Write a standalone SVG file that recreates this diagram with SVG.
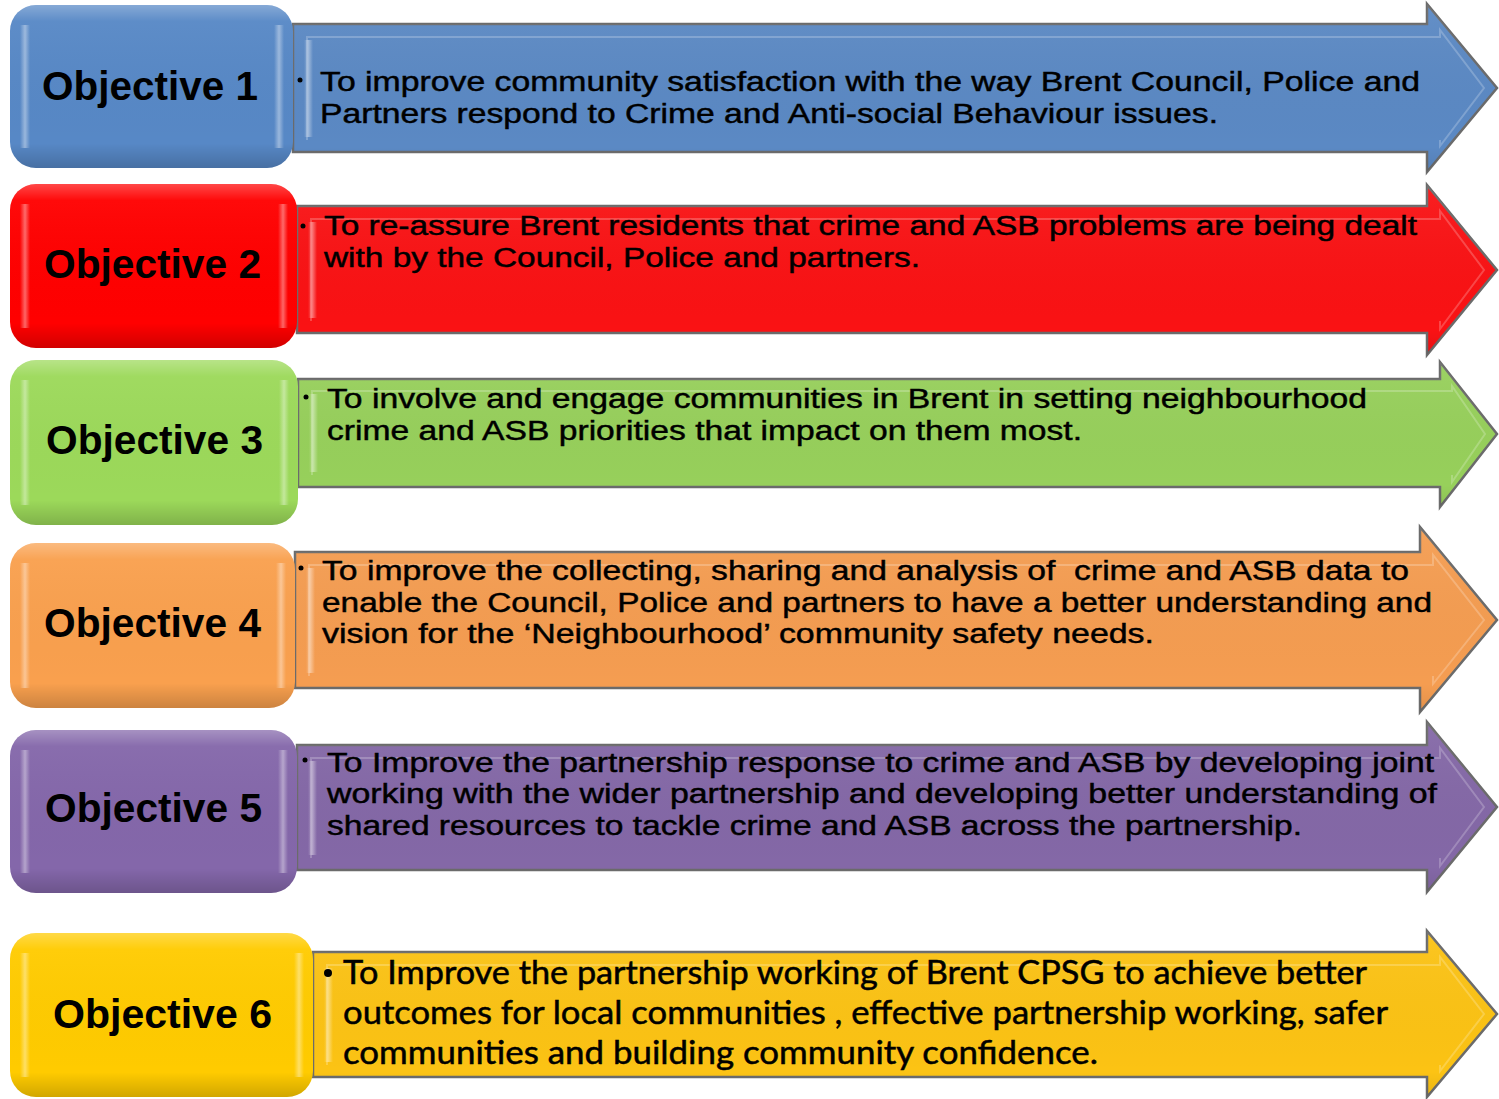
<svg xmlns="http://www.w3.org/2000/svg" width="1499" height="1099" viewBox="0 0 1499 1099">
<defs>
<linearGradient id="gloss" x1="0" y1="0" x2="0" y2="1">
<stop offset="0" stop-color="#ffffff" stop-opacity="0.28"/>
<stop offset="0.1" stop-color="#ffffff" stop-opacity="0.04"/>
<stop offset="0.85" stop-color="#000000" stop-opacity="0"/>
<stop offset="1" stop-color="#000000" stop-opacity="0.18"/>
</linearGradient>
<linearGradient id="agloss" x1="0" y1="0" x2="0" y2="1">
<stop offset="0" stop-color="#ffffff" stop-opacity="0.06"/>
<stop offset="0.85" stop-color="#000000" stop-opacity="0"/>
<stop offset="1" stop-color="#000000" stop-opacity="0.08"/>
</linearGradient>
<linearGradient id="side" x1="0" y1="0" x2="1" y2="0">
<stop offset="0" stop-color="#ffffff" stop-opacity="0"/>
<stop offset="0.5" stop-color="#ffffff" stop-opacity="0.4"/>
<stop offset="1" stop-color="#ffffff" stop-opacity="0"/>
</linearGradient>
</defs>
<style>
.arrow{stroke:#6b6b6b;stroke-width:2.5;stroke-linejoin:miter}
.ov{fill:url(#agloss);stroke:none}
.bev{fill:none;stroke:#ffffff;stroke-opacity:0.22;stroke-width:2}
.box{stroke:none}
.boxov{fill:url(#gloss)}
.hl{fill:url(#side)}
.lbl{font-family:"Liberation Sans",Arial,sans-serif;font-weight:bold;font-size:40px;fill:#000}
.t{font-family:"Liberation Sans",Arial,sans-serif;font-size:27px;fill:#000;stroke:#000;stroke-width:0.45}
.t6{font-family:Lato,"Open Sans",sans-serif;font-size:32px;fill:#000;stroke:#000;stroke-width:0.5}
.bul{fill:#000}
.c1{fill:#5788c6}.a1{fill:#5b89c4}
.c2{fill:#ff0000}.a2{fill:#fa1214}
.c3{fill:#9cd95a}.a3{fill:#97d05b}
.c4{fill:#f9a04e}.a4{fill:#f59d51}
.c5{fill:#8467aa}.a5{fill:#8468a7}
.c6{fill:#ffcb00}.a6{fill:#fcc314}
</style>

<g id="objective1">
<g id="arrow1">
<polygon class="arrow a1" points="293,24 1427,24 1427,4 1497,88 1427,172 1427,152 293,152"/>
<polygon class="ov" points="293,24 1427,24 1427,4 1497,88 1427,172 1427,152 293,152"/>
<polyline class="bev" points="307,140 307,37 1440,37 1440,30 1484,88 1440,146 1440,140"/>
<rect class="hl" x="304" y="40" width="9" height="97"/>
<circle class="bul" cx="300" cy="80" r="2.5"/>
<text class="t" x="320" y="91" textLength="1100" lengthAdjust="spacingAndGlyphs">To improve community satisfaction with the way Brent Council, Police and</text>
<text class="t" x="320" y="123" textLength="898" lengthAdjust="spacingAndGlyphs">Partners respond to Crime and Anti-social Behaviour issues.</text>
</g>
<g id="box1">
<rect class="box c1" x="10" y="5" width="283" height="163" rx="26"/>
<rect class="boxov" x="10" y="5" width="283" height="163" rx="26"/>
<rect class="hl" x="20" y="25" width="10" height="123"/>
<rect class="hl" x="274" y="25" width="10" height="123"/>
<text class="lbl" x="42" y="100" textLength="216" lengthAdjust="spacingAndGlyphs">Objective 1</text>
</g>
</g>

<g id="objective2">
<g id="arrow2">
<polygon class="arrow a2" points="297,206 1427,206 1427,185 1497,270 1427,355 1427,333 297,333"/>
<polygon class="ov" points="297,206 1427,206 1427,185 1497,270 1427,355 1427,333 297,333"/>
<polyline class="bev" points="311,321 311,219 1440,219 1440,211 1484,270 1440,329 1440,321"/>
<rect class="hl" x="308" y="222" width="9" height="96"/>
<circle class="bul" cx="303" cy="226" r="2.5"/>
<text class="t" x="324" y="235" textLength="1093" lengthAdjust="spacingAndGlyphs">To re-assure Brent residents that crime and ASB problems are being dealt</text>
<text class="t" x="324" y="267" textLength="596" lengthAdjust="spacingAndGlyphs">with by the Council, Police and partners.</text>
</g>
<g id="box2">
<rect class="box c2" x="10" y="184" width="287" height="164" rx="26"/>
<rect class="boxov" x="10" y="184" width="287" height="164" rx="26"/>
<rect class="hl" x="20" y="204" width="10" height="124"/>
<rect class="hl" x="278" y="204" width="10" height="124"/>
<text class="lbl" x="44" y="278" textLength="217" lengthAdjust="spacingAndGlyphs">Objective 2</text>
</g>
</g>

<g id="objective3">
<g id="arrow3">
<polygon class="arrow a3" points="298,379 1440,379 1440,362 1497,434 1440,507 1440,487 298,487"/>
<polygon class="ov" points="298,379 1440,379 1440,362 1497,434 1440,507 1440,487 298,487"/>
<polyline class="bev" points="312,475 312,391 1452,391 1452,386 1485,434 1452,482 1452,475"/>
<rect class="hl" x="309" y="394" width="9" height="78"/>
<circle class="bul" cx="306" cy="397" r="2.5"/>
<text class="t" x="327" y="408" textLength="1040" lengthAdjust="spacingAndGlyphs">To involve and engage communities in Brent in setting neighbourhood</text>
<text class="t" x="327" y="440" textLength="755" lengthAdjust="spacingAndGlyphs">crime and ASB priorities that impact on them most.</text>
</g>
<g id="box3">
<rect class="box c3" x="10" y="360" width="288" height="165" rx="26"/>
<rect class="boxov" x="10" y="360" width="288" height="165" rx="26"/>
<rect class="hl" x="20" y="380" width="10" height="125"/>
<rect class="hl" x="279" y="380" width="10" height="125"/>
<text class="lbl" x="46" y="454" textLength="217" lengthAdjust="spacingAndGlyphs">Objective 3</text>
</g>
</g>

<g id="objective4">
<g id="arrow4">
<polygon class="arrow a4" points="295,552 1420,552 1420,527 1497,620 1420,712 1420,688 295,688"/>
<polygon class="ov" points="295,552 1420,552 1420,527 1497,620 1420,712 1420,688 295,688"/>
<polyline class="bev" points="309,676 309,565 1433,565 1433,555 1484,620 1433,684 1433,676"/>
<rect class="hl" x="306" y="568" width="9" height="105"/>
<circle class="bul" cx="301" cy="568" r="2.5"/>
<text class="t" x="322" y="580" textLength="1087" lengthAdjust="spacingAndGlyphs" xml:space="preserve">To improve the collecting, sharing and analysis of  crime and ASB data to</text>
<text class="t" x="322" y="612" textLength="1110" lengthAdjust="spacingAndGlyphs">enable the Council, Police and partners to have a better understanding and</text>
<text class="t" x="322" y="643" textLength="832" lengthAdjust="spacingAndGlyphs">vision for the ‘Neighbourhood’ community safety needs.</text>
</g>
<g id="box4">
<rect class="box c4" x="10" y="543" width="285" height="165" rx="26"/>
<rect class="boxov" x="10" y="543" width="285" height="165" rx="26"/>
<rect class="hl" x="20" y="563" width="10" height="125"/>
<rect class="hl" x="276" y="563" width="10" height="125"/>
<text class="lbl" x="44" y="637" textLength="217" lengthAdjust="spacingAndGlyphs">Objective 4</text>
</g>
</g>

<g id="objective5">
<g id="arrow5">
<polygon class="arrow a5" points="297,745 1427,745 1427,722 1497,807 1427,892 1427,870 297,870"/>
<polygon class="ov" points="297,745 1427,745 1427,722 1497,807 1427,892 1427,870 297,870"/>
<polyline class="bev" points="311,858 311,758 1440,758 1440,748 1484,807 1440,866 1440,858"/>
<rect class="hl" x="308" y="761" width="9" height="94"/>
<circle class="bul" cx="305" cy="760" r="2.5"/>
<text class="t" x="327" y="772" textLength="1107" lengthAdjust="spacingAndGlyphs">To Improve the partnership response to crime and ASB by developing joint</text>
<text class="t" x="327" y="803" textLength="1110" lengthAdjust="spacingAndGlyphs">working with the wider partnership and developing better understanding of</text>
<text class="t" x="327" y="835" textLength="975" lengthAdjust="spacingAndGlyphs">shared resources to tackle crime and ASB across the partnership.</text>
</g>
<g id="box5">
<rect class="box c5" x="10" y="730" width="287" height="163" rx="26"/>
<rect class="boxov" x="10" y="730" width="287" height="163" rx="26"/>
<rect class="hl" x="20" y="750" width="10" height="123"/>
<rect class="hl" x="278" y="750" width="10" height="123"/>
<text class="lbl" x="45" y="822" textLength="217" lengthAdjust="spacingAndGlyphs">Objective 5</text>
</g>
</g>

<g id="objective6">
<g id="arrow6">
<polygon class="arrow a6" points="313,952 1427,952 1427,931 1497,1014 1427,1097 1427,1077 313,1077"/>
<polygon class="ov" points="313,952 1427,952 1427,931 1497,1014 1427,1097 1427,1077 313,1077"/>
<polyline class="bev" points="327,1065 327,965 1440,965 1440,957 1484,1014 1440,1071 1440,1065"/>
<rect class="hl" x="324" y="968" width="9" height="94"/>
<circle class="bul" cx="328" cy="973" r="4"/>
<text class="t6" x="343" y="984" textLength="1024" lengthAdjust="spacingAndGlyphs">To Improve the partnership working of Brent CPSG to achieve better</text>
<text class="t6" x="343" y="1024" textLength="1045" lengthAdjust="spacingAndGlyphs">outcomes for local communities , effective partnership working, safer</text>
<text class="t6" x="343" y="1064" textLength="755" lengthAdjust="spacingAndGlyphs">communities and building community confidence.</text>
</g>
<g id="box6">
<rect class="box c6" x="10" y="933" width="303" height="164" rx="26"/>
<rect class="boxov" x="10" y="933" width="303" height="164" rx="26"/>
<rect class="hl" x="20" y="953" width="10" height="124"/>
<rect class="hl" x="294" y="953" width="10" height="124"/>
<text class="lbl" x="53" y="1028" textLength="219" lengthAdjust="spacingAndGlyphs">Objective 6</text>
</g>
</g>
</svg>
